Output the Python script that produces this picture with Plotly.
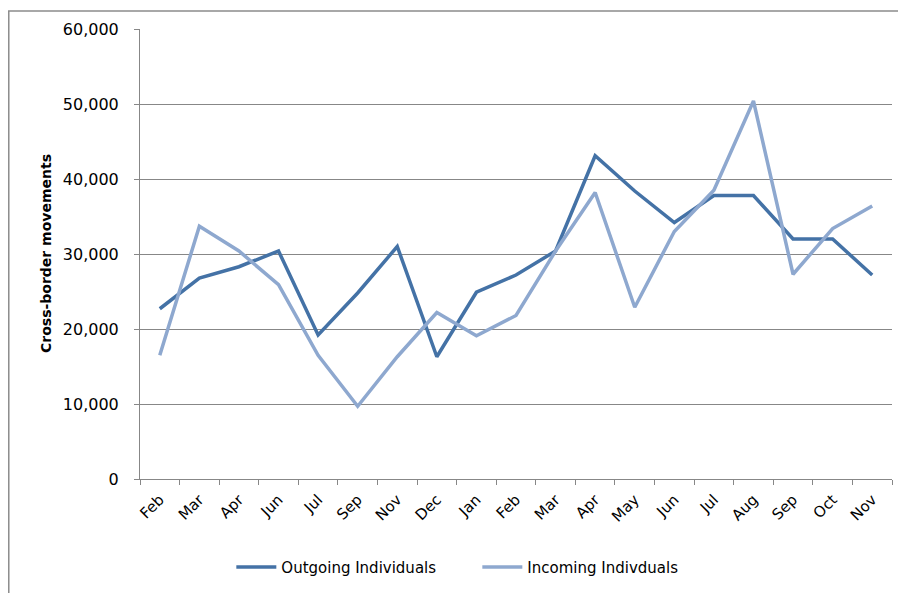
import plotly.graph_objects as go

# month labels along the x axis (two overlapping years, so ids are kept unique)
months = ["Feb", "Mar", "Apr", "Jun", "Jul", "Sep", "Nov", "Dec", "Jan",
          "Feb", "Mar", "Apr", "May", "Jun", "Jul", "Aug", "Sep", "Oct", "Nov"]
ids = [f"{m}_{i}" for i, m in enumerate(months)]

outgoing = [22700, 26800, 28300, 30400, 19200, 24800, 31000, 16300, 24900,
            27200, 30400, 43100, 38400, 34200, 37800, 37800, 32000, 32000, 27200]
incoming = [16500, 33700, 30400, 25900, 16500, 9700, 16300, 22200, 19100,
            21800, 30400, 38200, 22900, 33000, 38500, 50400, 27300, 33400, 36400]

font_name = "DejaVu Sans"
dark_blue = "#4472A6"
light_blue = "#8EA8CF"
grid_grey = "#878787"

fig = go.Figure()
fig.add_trace(go.Scatter(x=ids, y=outgoing, mode="lines", name="Outgoing Individuals",
                         line=dict(color=dark_blue, width=3.5)))
fig.add_trace(go.Scatter(x=ids, y=incoming, mode="lines", name="Incoming Indivduals",
                         line=dict(color=light_blue, width=3.5)))

fig.update_xaxes(type="category", tickvals=ids, ticktext=months, tickangle=-45,
                 range=[-0.5, len(ids) - 0.5],
                 tickson="boundaries", ticks="outside", ticklen=5, tickcolor=grid_grey,
                 ticklabelstandoff=5,
                 showline=True, linecolor=grid_grey, linewidth=1,
                 showgrid=False, zeroline=False,
                 tickfont=dict(family=font_name, size=15, color="#000000"))
fig.update_yaxes(range=[0, 60000], dtick=10000, tickformat=",",
                 ticks="outside", ticklen=5, tickcolor=grid_grey,
                 ticklabelstandoff=12,
                 showline=True, linecolor=grid_grey, linewidth=1,
                 showgrid=True, gridcolor=grid_grey, gridwidth=1, zeroline=False,
                 tickfont=dict(family=font_name, size=16, color="#000000"))

# y axis title placed as an annotation
fig.add_annotation(text="<b>Cross-border movements</b>", textangle=-90,
                   xref="paper", yref="paper", x=-0.125, y=0.5,
                   xanchor="center", yanchor="middle", showarrow=False,
                   font=dict(family=font_name, size=14, color="#000000"))

# outer chart border (only top and left edges fall inside the window)
fig.add_shape(type="rect", xref="paper", yref="paper",
              x0=-0.1745, x1=1.05, y0=-0.35, y1=1.040,
              line=dict(color="#8c8c8c", width=1.5), fillcolor="rgba(0,0,0,0)",
              layer="below")

fig.update_layout(width=906, height=593,
                  margin=dict(l=132, r=22, t=19, b=122),
                  paper_bgcolor="white", plot_bgcolor="white",
                  font=dict(family=font_name, size=15, color="#000000"),
                  legend=dict(orientation="h", xref="container", x=0.2465, xanchor="left",
                              yref="container", y=0.057, yanchor="middle",
                              entrywidth=191, entrywidthmode="pixels", itemwidth=40,
                              font=dict(family=font_name, size=15)),
                  showlegend=True)

fig.write_html("out.html")
